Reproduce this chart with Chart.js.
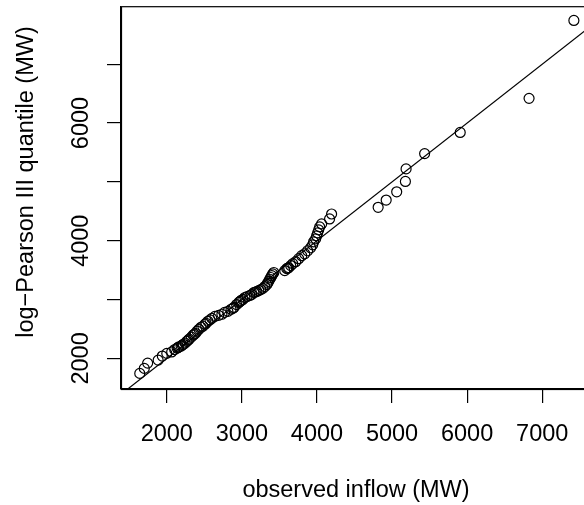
<!DOCTYPE html>
<html>
<head>
<meta charset="utf-8">
<title>log-Pearson III Q-Q</title>
<script src="https://cdn.jsdelivr.net/npm/chart.js@4/dist/chart.umd.min.js"></script>
<style>
  html, body { margin: 0; padding: 0; background: #fff; overflow: hidden; }
  canvas { display: block; }
</style>
</head>
<body>
<canvas id="qqChart" width="600" height="505"></canvas>
<script>
/* observed inflow (MW), sorted */
const observedInflow = [
  1640, 1700, 1745, 1885, 1940, 2000, 2065, 2105,
  2138, 2150, 2160, 2191, 2205, 2220, 2244, 2268, 2285, 2297, 2326, 2350, 2365, 2380, 2403, 2428, 2456, 2480, 2509, 2523,
  2548, 2575, 2600, 2641, 2690, 2734, 2770, 2814, 2856, 2880, 2894, 2930, 2960, 2975, 2990, 3013, 3040, 3070, 3106,
  3130, 3160, 3180, 3199, 3225, 3252, 3280, 3306, 3332,
  3345, 3358, 3372, 3385, 3398, 3411, 3425,
  3571, 3598, 3610, 3624, 3651, 3678, 3717, 3757, 3797, 3837, 3876, 3916, 3943,
  3956, 3983, 3996, 4009, 4023, 4036, 4062, 4168, 4195,
  4815, 4922, 5062, 5178, 5187, 5434, 5908, 6825, 7422
];

/* fitted log-Pearson III quantile (MW) */
const lp3Quantile = [
  1745, 1830, 1920, 1970, 2040, 2085, 2110, 2150,
  2174, 2185, 2195, 2208, 2225, 2240, 2259, 2290, 2310, 2326, 2362, 2394, 2410, 2425, 2462, 2495, 2529, 2546, 2580, 2597,
  2630, 2655, 2680, 2714, 2731, 2750, 2782, 2799, 2835, 2850, 2866, 2915, 2951, 2968, 2985, 3002, 3035, 3052, 3069,
  3086, 3120, 3128, 3137, 3154, 3170, 3190, 3221, 3255,
  3280, 3310, 3345, 3375, 3405, 3435, 3460,
  3491, 3525, 3533, 3542, 3576, 3610, 3643, 3694, 3745, 3778, 3829, 3880, 3930,
  3981, 4032, 4083, 4133, 4184, 4235, 4285, 4370, 4454,
  4568, 4691, 4831, 5007, 5220, 5480, 5840, 6419, 7743
];

/* 1:1 reference line */
const refLine = [1000, 9000];

const xTicks = [2000, 3000, 4000, 5000, 6000, 7000];
const yTicks = [2000, 3000, 4000, 5000, 6000, 7000];
const yTickLabels = ["2000", "", "4000", "", "6000", ""];

const xRange = [1390, 7650];
const yRange = [1480, 7985];

const xTitle = "observed inflow (MW)";
const yTitle = "log\u2212Pearson III quantile (MW)";

const FONT = { family: '"Liberation Sans", Arial, Helvetica, sans-serif', size: 23.5 };

// рамка навколо області графіка + повернуті підписи осі y (як у R)
const rFrame = {
  id: "rFrame",
  afterDraw(chart) {
    const { ctx, chartArea: a } = chart;
    const ys = chart.scales.y;
    ctx.save();
    ctx.strokeStyle = "#000";
    ctx.lineWidth = 1.2;
    ctx.strokeRect(a.left + 0.5, a.top + 0.5, a.right - a.left, a.bottom - a.top);

    ctx.fillStyle = "#000";
    ctx.font = `${FONT.size}px ${FONT.family}`;
    ctx.textAlign = "center";
    ctx.textBaseline = "alphabetic";
    yTicks.forEach((v, i) => {
      if (!yTickLabels[i]) return;
      ctx.save();
      ctx.translate(a.left - 33, ys.getPixelForValue(v));
      ctx.rotate(-Math.PI / 2);
      ctx.fillText(yTickLabels[i], 0, 0);
      ctx.restore();
    });

    // назва осі y
    ctx.textBaseline = "middle";
    ctx.save();
    ctx.translate(27, 182);
    ctx.rotate(-Math.PI / 2);
    ctx.fillText(yTitle, 0, 0);
    ctx.restore();
    ctx.restore();
  }
};

const points = observedInflow.map((x, i) => ({ x, y: lp3Quantile[i] }));
const line = refLine.map(v => ({ x: v, y: v }));

new Chart(document.getElementById("qqChart").getContext("2d"), {
  type: "scatter",
  data: {
    datasets: [
      {
        type: "line",
        data: line,
        borderColor: "#000",
        borderWidth: 1.2,
        pointRadius: 0,
        fill: false
      },
      {
        data: points,
        pointStyle: "circle",
        pointRadius: 5,
        borderWidth: 1.2,
        pointBorderColor: "#000",
        pointBackgroundColor: "rgba(0,0,0,0)"
      }
    ]
  },
  options: {
    responsive: false,
    animation: false,
    events: [],
    layout: { padding: { top: 3, right: 9, bottom: 0, left: 0 } },
    plugins: { legend: { display: false }, tooltip: { enabled: false } },
    scales: {
      x: {
        type: "linear",
        min: xRange[0],
        max: xRange[1],
        afterBuildTicks: s => { s.ticks = xTicks.map(v => ({ value: v })); },
        afterFit: s => { s.height = 116; },
        grid: { drawOnChartArea: false, drawTicks: true, tickLength: 14, color: "#000", lineWidth: 1.2 },
        border: { display: true, color: "#000", width: 1.2 },
        ticks: {
          color: "#000", font: FONT, padding: 17, maxRotation: 0, autoSkip: false,
          callback: v => String(v)
        },
        title: {
          display: true, text: xTitle, color: "#000", font: FONT,
          padding: { top: 0, bottom: 0 }
        }
      },
      y: {
        type: "linear",
        min: yRange[0],
        max: yRange[1],
        afterBuildTicks: s => { s.ticks = yTicks.map(v => ({ value: v })); },
        afterFit: s => { s.width = 121; },
        grid: { drawOnChartArea: false, drawTicks: true, tickLength: 14, color: "#000", lineWidth: 1.2 },
        border: { display: true, color: "#000", width: 1.2 },
        ticks: { display: false },
        title: { display: false }
      }
    }
  },
  plugins: [rFrame]
});
</script>
</body>
</html>
